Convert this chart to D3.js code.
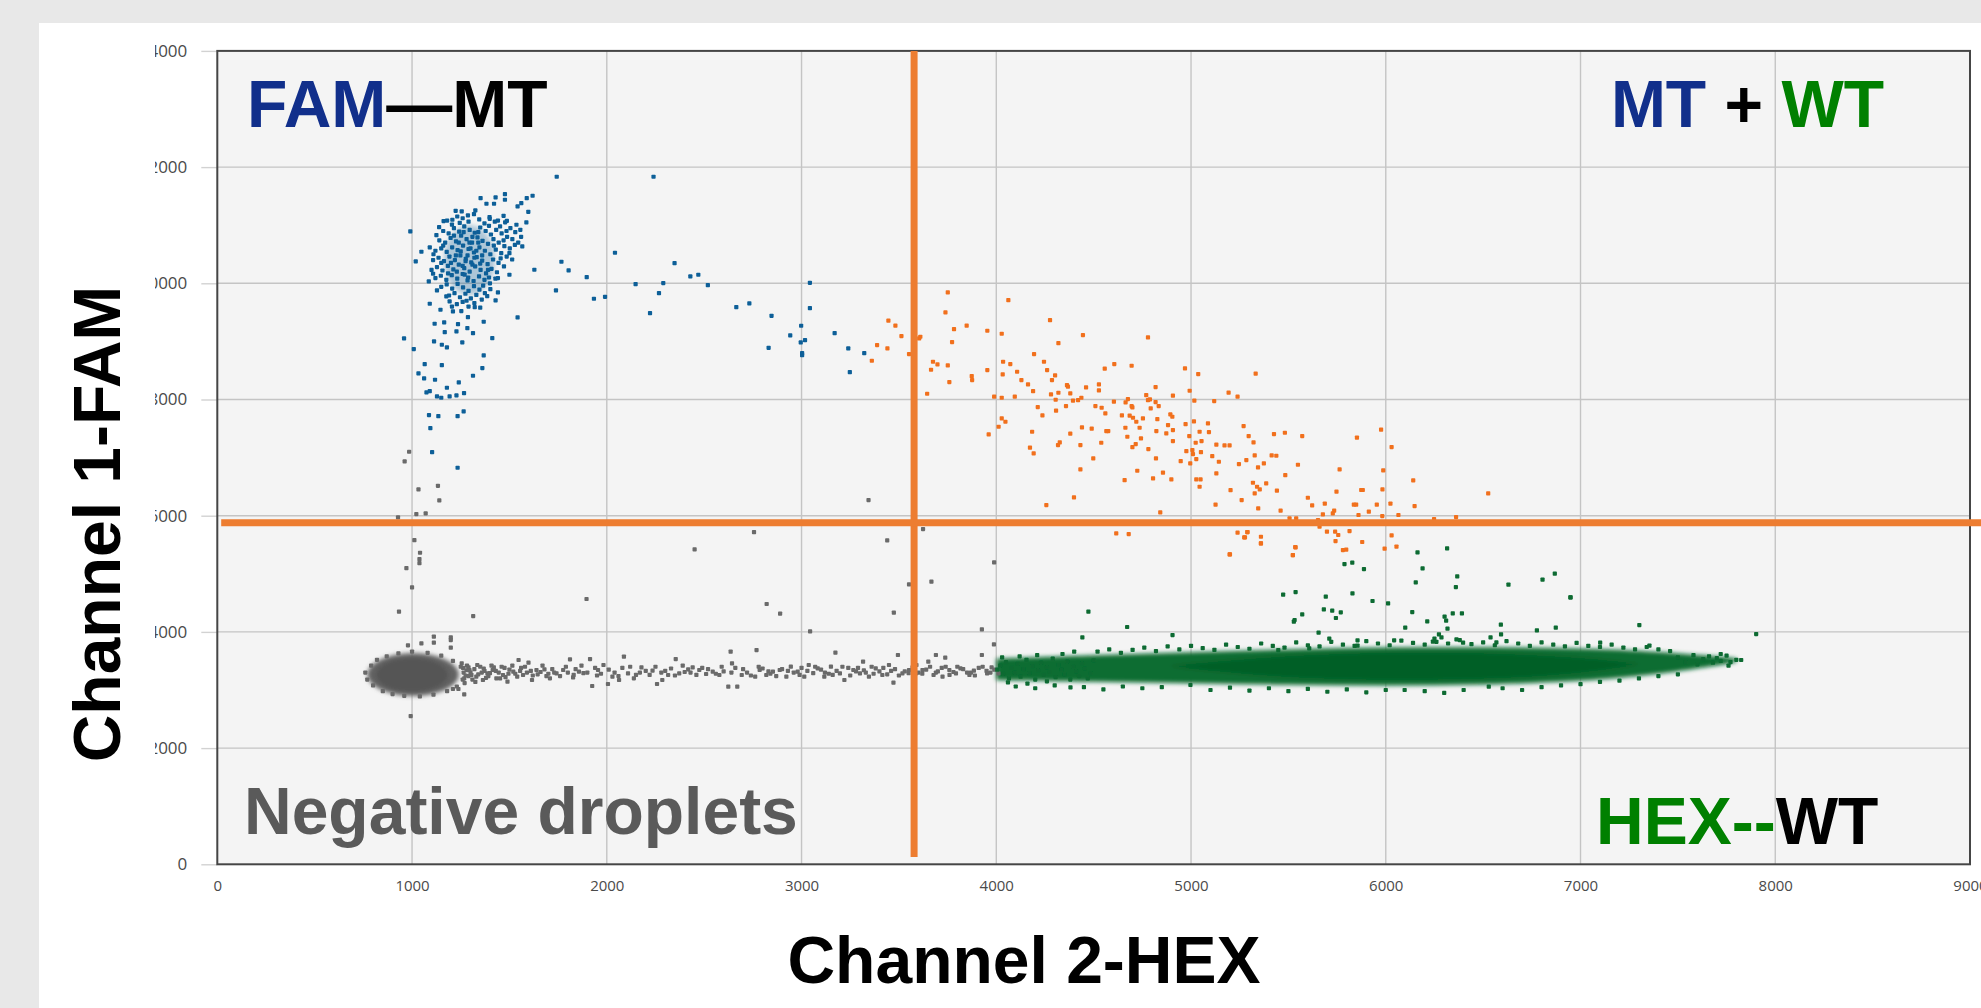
<!DOCTYPE html>
<html>
<head>
<meta charset="utf-8">
<script src="https://cdn.jsdelivr.net/npm/d3@7"></script>
<style>
html, body { margin: 0; padding: 0; background: #e8e8e8; overflow: hidden; }
svg { display: block; }
</style>
</head>
<body>
<svg id="chart"></svg>
<script>
//tick values of the two channels
let xTicks = [0, 1000, 2000, 3000, 4000, 5000, 6000, 7000, 8000, 9000];
let yTicks = [0, 2000, 4000, 6000, 8000, 10000, 12000, 14000];

//gating thresholds (HEX amplitude, FAM amplitude)
let hexThreshold = 3578;
let famThreshold = 5880;

//FAM+ only droplets (MT)
let bluePoints = [
  [1743,11834],[2240,11834],
  [1352,11466],[1429,11478],[1477,11535],[1477,11438],[1382,11369],[1421,11369],[1542,11323],[1561,11380],[1589,11466],[1619,11507],
  [1597,11231],[1587,11048],[1224,11248],[1255,11237],[1287,11168],[1325,11254],[1207,11094],[1162,11071],[1139,10967],[1536,11008],
  [1556,10921],[1566,10635],[1470,11162],[1487,11076],[1399,11110],[1441,11080],
  [991,10893],[1048,10543],[1019,10376],[1091,10617],[1086,10032],[1108,10164],
  [1628,10233],[1500,10147],[1441,10090],[1441,9843],[1429,9705],
  [1128,9877],[1176,9774],[1193,9688],[1091,9648],[1146,9545],[1210,9516],[1253,9522],[1322,9590],[1287,9418],[1368,9338],[1542,9413],
  [1116,9304],[1165,9327],[1236,9298],[1284,9229],[1313,9143],[1228,9172],[1168,9160],[1113,8999],[1153,8942],[1179,8896],[1258,8982],
  [1412,9057],[959,9051],[1009,8868],[1368,8759],[1065,8609],[1153,8592],[1361,8541],[1033,8449],[1062,8363],[1118,8340],[1313,8409],
  [1240,8294],[1179,8202],[1074,8122],[1091,8145],[1128,8053],[1150,8030],[1193,8053],[1228,8070],[1267,8110],[1087,7732],[1135,7714],
  [1234,7714],[1265,7795],[1094,7508],[1103,7095],[1234,6825],
  [1767,10371],[1804,10222],[1897,10107],[2042,10526],[1739,9877],[1934,9734],[1991,9768],[2148,9986],[2290,10004],[2268,9831],
  [2348,10348],[2429,10118],[2470,10147],[2519,9969],[2222,9487],[2665,9590],[2732,9654],[2846,9441],[2942,9103],[2831,8890],
  [2998,9269],[2996,8982],[3018,9022],[3003,8799],[3003,8764],[3043,10009],[3043,9573],[3170,9143],[3240,8879],[3322,8799],[3248,8472],
  [1180,11080],[1205,11010],[1232,11150],[1260,11120],[1290,11060],[1318,11190],[1345,11100],[1372,11030],[1398,11140],[1425,11060],
  [1452,10980],[1478,11050],[1505,10950],[1530,10880],[1160,10900],[1188,10860],[1215,10950],[1242,10890],[1268,10980],[1296,10920],
  [1322,10870],[1350,10960],[1378,10900],[1405,10840],[1432,10920],[1460,10860],[1488,10800],[1515,10760],[1545,10700],[1140,10740],
  [1170,10700],[1198,10780],[1226,10720],[1252,10820],[1280,10760],[1308,10700],[1336,10790],[1362,10730],[1390,10680],[1418,10760],
  [1445,10700],[1474,10640],[1502,10600],[1528,10660],[1120,10560],[1150,10600],[1178,10540],[1206,10620],[1234,10570],[1262,10650],
  [1290,10590],[1318,10530],[1346,10620],[1374,10560],[1402,10500],[1430,10580],[1458,10520],[1486,10460],[1514,10410],[1108,10400],
  [1136,10440],[1164,10380],[1192,10460],[1220,10400],[1248,10480],[1276,10420],[1304,10360],[1332,10450],[1360,10390],[1388,10330],
  [1416,10410],[1444,10350],[1472,10290],[1100,10230],[1128,10280],[1156,10220],[1184,10300],[1212,10240],[1240,10320],[1268,10260],
  [1296,10200],[1324,10290],[1352,10230],[1380,10170],[1408,10250],[1436,10190],[1120,10090],[1148,10130],[1176,10060],[1204,10140],
  [1232,10080],[1260,10160],[1288,10100],[1316,10040],[1344,10120],[1372,10060],[1400,10000],[1428,10080],[1150,9940],[1178,9980],
  [1206,9910],[1234,9990],[1262,9930],[1290,9870],[1318,9950],[1346,9890],[1374,9830],[1402,9900],[1190,9790],[1218,9830],
  [1246,9760],[1274,9820],[1302,9740],[1330,9800],[1358,9720],[1386,9780],[1230,9640],[1260,9680],[1290,9600],[1320,9660],[1350,9580],
  [1250,10550],[1275,10380],[1300,10600],[1320,10440],[1260,10300],[1285,10480],[1310,10320],[1240,10700],[1330,10560],[1270,10150],
  [1295,10700],[1225,10480],[1350,10340],[1265,10880],[1310,10800],[1200,10350],[1340,10700],[1285,10050],[1230,10200],[1360,10480],
  [1125,10830],[1245,11040],[1395,10990],[1470,10740],[1500,10520],[1160,10650],[1390,10230],[1455,10430],[1185,10170],[1365,9960],
  [1150,10350],[1420,10650],[1215,10820],[1340,10880],[1280,9700],[1205,9600],[1395,10100],[1110,10500],[1485,10900],[1560,10800]
];

//dense centre of the FAM cluster [x, y, spread x, spread y]
let blueCore = [[1295, 10400, 130, 600]];

//double positive droplets (MT + WT)
let orangePoints = [
  [3446,9356],[3482,9270],[3513,9092],[3388,8937],[3441,8880],[3361,8667],[3552,8782],[3604,9052],[3610,9080],[3751,9843],[3739,9499],
  [3783,9212],[3773,8989],[3848,9270],[3954,9183],[4028,9132],[4062,9711],[3675,8650],[3698,8604],[3665,8512],[3751,8587],[3759,8300],
  [3645,8099],[3874,8403],[3876,8335],[3954,8507],[4035,8650],[4033,8432],[4072,8610],[4107,8478],[4129,8335],[4163,8260],[4189,8145],
  [4194,8782],[4245,8650],[4261,8507],[4286,8335],[4302,8415],[4276,9367],[4319,8971],[4445,9109],[3989,8048],[4028,8030],[4095,8048],
  [4213,7870],[4237,7726],[4281,8088],[4305,7996],[4319,8116],[4307,7807],[4363,8248],[4380,8105],[4368,8220],[4461,8208],[4394,7979],
  [4420,7990],[4437,8030],[4358,7887],[4527,8260],[4527,8157],[4557,8530],[4606,8610],[4695,8581],[4779,9069],[4509,7887],[4541,7858],
  [4560,7761],[4604,7962],[4664,7950],[4676,8008],[4695,7887],[4699,7864],[4770,8076],[4779,7990],[4789,8002],[4818,8214],[4818,7956],
  [4834,7887],[4793,7847],[4907,8065],[4969,8535],[5037,8438],[4993,8151],[5017,7979],[5119,7973],[5193,8117],[5239,8048],[5332,8444],
  [3961,7399],[4012,7531],[4028,7675],[4047,7617],[4184,7445],[4173,7170],[4192,7072],[4317,7216],[4326,7262],[4380,7411],[4432,7216],
  [4440,7520],[4490,7497],[4498,6986],[4539,7256],[4565,7457],[4575,7457],[4645,7726],[4663,7514],[4673,7359],[4685,7721],[4702,7686],
  [4719,7617],[4736,7514],[4743,7330],[4716,7233],[4699,7181],[4753,7675],[4781,7147],[4822,7457],[4827,7663],[4820,6986],[4724,6774],
  [4659,6612],[4432,6797],[4257,6183],[4399,6315],[4805,6642],[4856,6740],[4899,6625],[4842,6057],[4873,7417],[4882,7560],[4894,7743],
  [4904,7703],[4907,7474],[4907,7285],[4947,6940],[4972,7577],[4991,7371],[4976,7112],[4996,6900],[5010,7061],[5007,7130],[5015,7623],
  [5027,6975],[5024,7256],[5044,7445],[5054,7285],[5051,7095],[5027,6625],[5044,6498],[5049,6625],[5087,7589],[5092,7440],[5109,7026],
  [5130,7222],[5143,6929],[5130,6728],[5126,6189],[5172,7210],[5198,7210],[5203,6441],[5246,6889],[5260,6269],[5270,7543],[5284,6958],
  [5296,7371],[5321,7262],[5327,7038],[5344,6831],[5374,6900],[5318,6567],[5339,6498],[5353,6453],[5327,6384],[5386,6556],[5345,6126],
  [5414,7038],[5438,7032],[5426,7405],[5482,7428],[5441,6430],[5484,6699],[5549,6877],[5571,7371],[5460,6086],[5506,5953],[5540,5953],
  [5600,6309],[5622,6177],[5652,5925],[4616,5696],[4680,5684],[5239,5707],[5289,5718],[5277,5627],[5359,5638],[5359,5523],[5198,5334],
  [5535,5460],[5523,5322],
  [5852,7343],[5976,7480],[6030,7182],[5987,6780],[5763,6798],[5747,6413],[5882,6442],[5874,6442],[5983,6453],[6141,6608],[6148,6166],
  [5954,6189],[6024,6207],[5836,6189],[5848,6189],[5913,6069],[5860,6012],[5982,5994],[6065,6012],[5728,6040],[5735,6086],[5687,6207],
  [5677,6023],[6248,5943],[6361,5977],[6526,6385],[5814,5736],[5698,5725],[5740,5725],[5756,5668],[5879,5547],[5742,5564],[5780,5409],
  [5797,5415],[6030,5662],[6055,5467],[5994,5432],[5660,5811],[5537,5455],[5523,5323],[5359,5524],[5273,5627],[5290,5719],[5200,5335]
];

//negative droplets
let grayPoints = [
  [985,7101],[962,6934],[1033,6452],[1133,6515],[1140,6263],[1022,6028],[1070,6039],[928,5970],[1012,5580],[1041,5362],[1038,5253],
  [1038,5184],[971,5098],[3344,6269],[2756,5718],[2451,5420],[3440,5575],[3624,5770],[3989,5196],[1000,4767],[933,4348],[1314,4273],
  [1896,4566],[2821,4480],[2890,4314],[3044,4009],[3474,4331],[3552,4818],[3667,4864],[3926,4044],[3988,3786],[1112,3918],[1112,3814],
  [1048,3803],[979,3769],[1199,3906],[1199,3860],[1199,3728],[993,2552],[1268,2925],[1210,3017],[1238,3017],
  [1295,3344],[1330,3229],[1364,3172],[1387,3287],[1414,3344],[1433,3201],[1467,3258],[1490,3143],[1520,3315],[1547,3516],[1570,3258],
  [1598,3470],[1616,3172],[1639,3344],[1680,3355],[1708,3201],[1742,3287],[1776,3344],[1811,3528],[1827,3218],[1857,3315],[1914,3533],
  [1925,3069],[1955,3344],[1983,3430],[2006,3103],[2029,3229],[2063,3172],[2088,3574],[2109,3287],[2139,3201],[2178,3390],[2235,3332],
  [2258,3103],[2285,3172],[2315,3258],[2354,3533],[2372,3287],[2418,3355],[2441,3390],[2475,3344],[2510,3275],[2544,3315],[2578,3258],
  [2636,3660],[2643,3459],[2624,3057],[2670,3057],[2693,3258],[2762,3229],[2769,3688],[2785,3344],[2819,3258],[2853,3315],[2888,3344],
  [2922,3229],[2945,3401],[2980,3315],[3014,3229],[3037,3430],[3083,3373],[3117,3229],[3151,3401],[3174,3642],[3197,3287],[3220,3172],
  [3266,3344],[3300,3287],[3316,3487],[3346,3229],[3381,3373],[3415,3258],[3449,3430],[3472,3126],[3495,3602],[3518,3287],[3552,3344],
  [3587,3287],[3621,3344],[3651,3487],[3678,3258],[3690,3602],[3724,3229],[3738,3556],[3759,3344],[3793,3287],[3816,3373],[3862,3258],
  [3885,3332],[3926,3602],[3953,3287],[3976,3390],[4011,3287],
  [1262,3380],[1275,3250],[1282,3420],[1300,3300],[1310,3180],[1320,3360],[1340,3270],[1350,3400],[1372,3330],[1380,3210],[1400,3290],
  [1420,3390],[1445,3300],[1460,3400],[1480,3220],[1500,3350],[1530,3280],[1560,3380],[1590,3300],[1620,3250],[1660,3310],[1700,3280],
  [1720,3360],[1760,3240],[1800,3300],[1840,3360],[1880,3290],[1950,3250],[2040,3300],[2080,3380],[2150,3260],[2200,3330],[2280,3300],
  [2330,3370],[2400,3310],[2460,3260],[2520,3360],[2600,3320],[2660,3380],[2720,3300],[2800,3370],[2840,3280],[2900,3360],[2960,3300],
  [3000,3380],[3060,3290],[3100,3350],[3140,3280],[3180,3330],[3240,3380],[3280,3320],[3330,3300],[3360,3400],[3400,3320],[3440,3270],
  [3480,3360],[3530,3320],[3570,3390],[3600,3300],[3640,3350],[3700,3320],[3740,3400],[3780,3310],[3830,3360],[3870,3300],[3910,3380],
  [3950,3330],[3990,3350],
  [1255,3460],[1268,3200],[1290,3390],[1305,3260],[1325,3140],[1335,3430],[1358,3300],[1368,3370],[1392,3240],[1408,3420],[1430,3330],
  [1452,3200],[1475,3380],[1495,3280],[1515,3420],[1540,3230],[1555,3330],[1580,3400],[1610,3330],[1645,3270],[1670,3420],[1690,3240],
  [1730,3300],[1790,3400],[1830,3260],[1870,3420],[1900,3300],[1940,3380],[1970,3280],[2010,3350],[2060,3240],[2120,3400],[2170,3300],
  [2220,3260],[2250,3400],[2300,3330],[2350,3250],[2390,3420],[2430,3300],[2490,3380],[2560,3280],[2590,3400],[2640,3300],[2700,3360],
  [2740,3250],[2780,3400],[2830,3320],[2870,3240],[2930,3330],[2990,3260],[3030,3330],[3070,3400],[3120,3300],[3160,3260],[3210,3400],
  [3250,3250],[3290,3380],[3320,3340],[3370,3280],[3420,3380],[3460,3330],[3500,3250],[3550,3290],[3590,3430],[3620,3280],[3660,3400],
  [3690,3300],[3720,3380],[3760,3260],[3800,3400],[3850,3300],[3890,3250],[3930,3400],[3970,3300],
  [760,3300],[770,3180],[790,3420],[800,3080],[820,3520],[850,2980],[870,3580],[900,2930],[930,3630],[960,2900],[1000,3660],[1040,2890],
  [1080,3640],[1110,2920],[1150,3590],[1180,2980],[1210,3500],[1230,3060],[1250,3400],[1260,3180],[1265,3300],[1280,3340],[1290,3240],[1270,3120]
];

//solid blob of negatives [x, y, spread x, spread y]
let grayBlob = [[1005, 3265, 235, 370], [1000, 3260, 185, 290]];

//HEX+ only droplets (WT)
let greenPoints = [
  [4473,4348],[4672,4084],[4905,3946],[4442,3906],[6163,5369],[6315,5438],[5788,5168],[5828,5191],[5888,5082],[6189,5094],[6154,4853],
  [6367,4956],[6360,4772],[6630,4813],[6805,4899],[6868,5002],[6948,4595],[5473,4641],[5537,4686],[5692,4606],[5829,4663],[5932,4532],
  [6012,4491],[5571,4302],[5528,4176],[5532,4205],[5682,4388],[5725,4365],[5769,4337],[5744,4239],[6136,4342],[6213,4181],[6100,4072],
  [6302,4262],[6310,4193],[6317,4055],[6344,4319],[6391,4319],[6591,4124],[6592,3958],[6776,4027],[6873,4072],[7302,4118],[5655,3986],
  [5710,3883],[5855,3855],[5855,3763],[6043,3855],[6250,3883],[6242,3832],[6273,3958],[6286,3906],[6363,3872],[6397,3814],[6538,3906],
  [6568,3820],[5607,3717],[5448,3688],[7101,3814],[7354,3763],[7902,3963],[6949,4595],[4381,3046],[4997,3086],[6097,3000],[6529,3057],
  [4005,3350],[4020,3420],[4035,3280],[4050,3480],[4065,3200],[4080,3380],[4095,3300],[4110,3450],[4125,3230],[4140,3360],[4155,3520],
  [4170,3290],[4185,3410],[4200,3180],[4215,3340],[4230,3470],[4245,3260],[4260,3390],[4275,3310],[4290,3540],[4305,3220],[4320,3430],
  [4335,3350],[4350,3270],[4365,3490],[4380,3180],[4395,3400],[4410,3320],[4425,3240],[4440,3460],[4455,3370],[4470,3200],[4485,3290],
  [4500,3510],[4030,3560],[4120,3580],[4210,3600],[4340,3620],[4060,3130],[4160,3110],[4260,3150],[4400,3660],
  [4520,3660],[4580,3700],[4640,3640],[4700,3690],[4760,3730],[4820,3670],[4880,3750],[4940,3700],[5000,3760],[5060,3720],[5120,3690],
  [5180,3780],[5240,3740],[5300,3710],[5360,3800],[5420,3760],[5480,3730],[5540,3820],[5600,3770],[5660,3750],[5720,3830],[5780,3780],
  [5840,3760],[5900,3840],[5960,3800],[6020,3770],[6080,3850],[6140,3810],[6200,3780],[6260,3830],[6320,3800],[6380,3860],[6440,3790],
  [6500,3820],[6560,3770],[6620,3840],[6680,3800],[6740,3760],[6800,3820],[6860,3780],[6920,3750],[6980,3810],[7040,3760],[7100,3740],
  [7160,3780],[7220,3730],[7280,3700],[7340,3740],[7400,3700],[7460,3670],
  [4100,3060],[4200,3030],[4300,3080],[4450,3050],[4550,3010],[4650,3060],[4750,3030],[4850,3050],[5100,3000],[5200,3040],[5300,2990],
  [5400,3030],[5500,2980],[5600,3020],[5700,2970],[5800,3010],[5900,2960],[6000,3000],[6200,2980],[6300,2950],[6400,3000],[6600,3030],
  [6700,3000],[6800,3050],[6900,3080],[7000,3100],[7100,3140],[7200,3160],[7300,3200],[7400,3240],[7500,3270],
  [7500,3560],[7540,3480],[7580,3600],[7600,3440],[7630,3530],[7660,3580],[7680,3470],[7700,3550],[7720,3500],[7750,3590],[7770,3480],
  [7800,3520],[7825,3516],[7760,3420],[7720,3620]
];

//solid HEX band: x, upper and lower edges
let greenBandX   = [4000, 4500, 5000, 5500, 6000, 6500, 7000, 7300, 7500, 7700, 7800];
let greenBandTop = [3540, 3600, 3650, 3700, 3735, 3740, 3715, 3675, 3630, 3580, 3545];
let greenBandBot = [3170, 3140, 3115, 3090, 3070, 3090, 3150, 3240, 3320, 3420, 3480];
let greenCoreX   = [4900, 5400, 5800, 6200, 6600, 7000, 7300];
let greenCoreTop = [3420, 3570, 3630, 3650, 3630, 3560, 3450];
let greenCoreBot = [3400, 3230, 3180, 3170, 3200, 3280, 3440];

//svg dimensions
let width = 1981;
let height = 1008;

let svg = d3.select('#chart')
    .attr('width', width)
    .attr('height', height);

let xScale = d3.scaleLinear().domain([0, 9000]).range([217.3, 1970]);
let yScale = d3.scaleLinear().domain([0, 14000]).range([864.3, 50.9]);

let defs = svg.append('defs');
defs.append('filter').attr('id', 'soft')
    .append('feGaussianBlur').attr('stdDeviation', 2);
defs.append('filter').attr('id', 'dot')
    .append('feGaussianBlur').attr('stdDeviation', 0.4);
defs.append('clipPath').attr('id', 'yLabelClip')
    .append('rect')
    .attr('x', 155 - xScale(0)).attr('y', -20)
    .attr('width', xScale(0) - 155).attr('height', height);

//white panel
svg.append('rect')
    .attr('x', 39).attr('y', 23)
    .attr('width', width - 39).attr('height', height - 23)
    .attr('fill', '#ffffff');

//plot background
svg.append('rect')
    .attr('x', xScale(0)).attr('y', yScale(14000))
    .attr('width', xScale(9000) - xScale(0))
    .attr('height', yScale(0) - yScale(14000))
    .attr('fill', '#f4f4f4');

//grid
svg.append('g').selectAll('line')
    .data(xTicks.slice(1, -1))
    .join('line')
    .attr('x1', d => xScale(d)).attr('x2', d => xScale(d))
    .attr('y1', yScale(14000)).attr('y2', yScale(0))
    .attr('stroke', '#c4c4c4').attr('stroke-width', 1.4);

svg.append('g').selectAll('line')
    .data(yTicks.slice(1, -1))
    .join('line')
    .attr('x1', xScale(0)).attr('x2', xScale(9000))
    .attr('y1', d => yScale(d)).attr('y2', d => yScale(d))
    .attr('stroke', '#c4c4c4').attr('stroke-width', 1.4);

//axes
let yAxis = svg.append('g')
    .attr('transform', 'translate(' + xScale(0) + ', 0)')
    .call(d3.axisLeft(yScale).tickValues(yTicks).tickSize(16).tickPadding(14).tickFormat(d3.format('d')));
yAxis.select('.domain').remove();
yAxis.selectAll('line').attr('stroke', '#d2d2d2').attr('stroke-width', 1.4);
yAxis.selectAll('text')
    .attr('clip-path', 'url(#yLabelClip)')
    .style('font-family', '"Open Sans", sans-serif')
    .style('font-size', '17px')
    .attr('fill', '#4a4a4a');

let xAxis = svg.append('g')
    .attr('transform', 'translate(0, ' + yScale(0) + ')')
    .call(d3.axisBottom(xScale).tickValues(xTicks).tickSize(0).tickPadding(16).tickFormat(d3.format('d')));
xAxis.select('.domain').remove();
xAxis.selectAll('text')
    .style('font-family', '"Open Sans", sans-serif')
    .style('font-size', '15px')
    .attr('fill', '#4a4a4a');

//dense clusters
let ellipses = (data, color, g) => {
    g.selectAll('ellipse').data(data).join('ellipse')
        .attr('cx', d => xScale(d[0]))
        .attr('cy', d => yScale(d[1]))
        .attr('rx', d => xScale(d[2]) - xScale(0))
        .attr('ry', d => yScale(0) - yScale(d[3]))
        .attr('fill', (d, i) => color[i]);
};

let dense = svg.append('g').attr('filter', 'url(#soft)');
ellipses(grayBlob, ['#626262', '#555555'], dense.append('g'));

let band = d3.area()
    .x(d => xScale(d[0]))
    .y0(d => yScale(d[2]))
    .y1(d => yScale(d[1]))
    .curve(d3.curveBasis);

dense.append('path')
    .datum(greenBandX.map((x, i) => [x, greenBandTop[i], greenBandBot[i]]))
    .attr('d', band)
    .attr('fill', '#0c6d33');
dense.append('path')
    .datum(greenCoreX.map((x, i) => [x, greenCoreTop[i], greenCoreBot[i]]))
    .attr('d', band)
    .attr('fill', '#045e28');

//points
let drawPoints = (pts, color) => {
    svg.append('g').attr('filter', 'url(#dot)')
        .selectAll('rect').data(pts).join('rect')
        .attr('x', d => xScale(d[0]) - 2.1)
        .attr('y', d => yScale(d[1]) - 2.1)
        .attr('width', 4.2).attr('height', 4.2)
        .attr('rx', 0.8)
        .attr('fill', color);
};

drawPoints(grayPoints, '#6a6a6a');
drawPoints(greenPoints, '#0a6b31');
ellipses(blueCore, ['#0a5e96'], svg.append('g').attr('filter', 'url(#soft)').attr('opacity', 0.3));
drawPoints(bluePoints, '#0b5f98');
drawPoints(orangePoints, '#f1701f');

//plot border
svg.append('rect')
    .attr('x', xScale(0)).attr('y', yScale(14000))
    .attr('width', xScale(9000) - xScale(0))
    .attr('height', yScale(0) - yScale(14000))
    .attr('fill', 'none')
    .attr('stroke', '#454545').attr('stroke-width', 2);

//gate lines
let gateLines = [
    [hexThreshold, 14000, hexThreshold, 125],
    [20, famThreshold, 9060, famThreshold]
];
svg.append('g').selectAll('line').data(gateLines).join('line')
    .attr('x1', d => xScale(d[0])).attr('y1', d => yScale(d[1]))
    .attr('x2', d => xScale(d[2])).attr('y2', d => yScale(d[3]))
    .attr('stroke', '#ed7d31').attr('stroke-width', 7);

//quadrant labels
let label = (x, y, parts, anchor) => {
    let t = svg.append('text')
        .attr('x', x).attr('y', y)
        .attr('text-anchor', anchor || 'start')
        .style('font-family', '"Liberation Sans", Arial, sans-serif')
        .style('font-weight', 'bold')
        .style('font-size', '66px');
    parts.forEach(p => t.append('tspan').text(p[0]).attr('fill', p[1]));
};

label(247, 127, [['FAM', '#112f8b'], ['\u2014MT', '#000']]);
label(1884, 127, [['MT', '#112f8b'], [' + ', '#000'], ['WT', '#008000']], 'end');
label(1596, 844, [['HEX--', '#008000'], ['WT', '#000']]);
label(244, 834, [['Negative droplets', '#5a5a5a']]);

//axis titles
label(1024, 983, [['Channel 2-HEX', '#000']], 'middle');
svg.append('g')
    .attr('transform', 'translate(120, 524) rotate(-90)')
    .append('text')
    .attr('text-anchor', 'middle')
    .style('font-family', '"Liberation Sans", Arial, sans-serif')
    .style('font-weight', 'bold')
    .style('font-size', '66px')
    .attr('fill', '#000')
    .text('Channel 1-FAM');
</script>
</body>
</html>
